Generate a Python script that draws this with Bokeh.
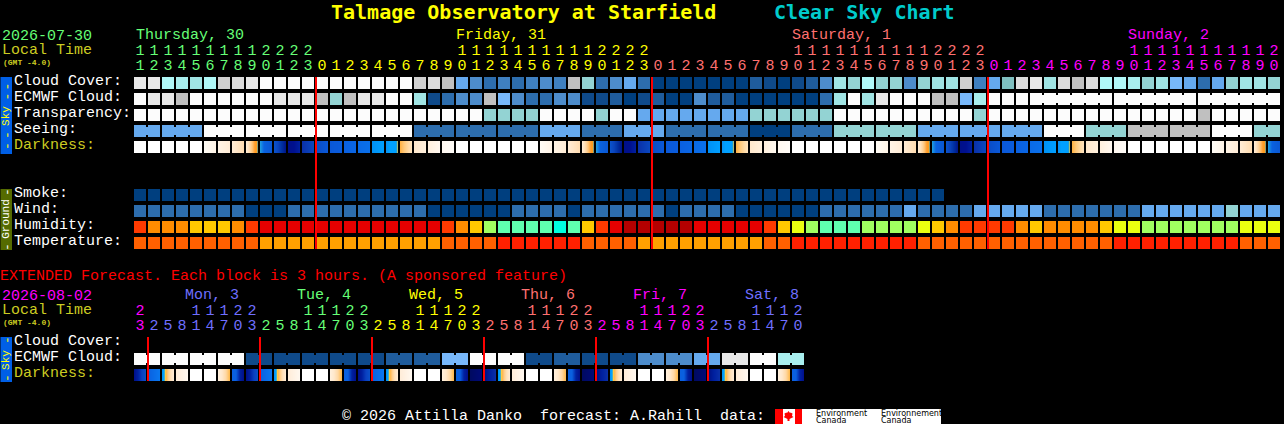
from bokeh.plotting import figure
from bokeh.core.properties import value
from bokeh.embed import file_html
from bokeh.resources import INLINE
import math

W, H = 1284, 424
MONO = value("Liberation Mono")
TITLE = value("DejaVu Sans Mono")

# ---------- palettes ----------
cloud_palette = ["#003f7f", "#0f4a8a", "#1f5c9c", "#2d6dad", "#3f80c0", "#4d8ccb", "#65a9ee", "#78b8fa",
                 "#7fbfbf", "#93d3d3", "#a0e4e4", "#a8eeee", "#b0f8f8", "#c0c0c0", "#d0d0d0", "#dcdcdc",
                 "#e8e8e8", "#fcfcfc"]
humid_palette = {"r": "#ff3a00", "o": "#ff8c00", "y": "#ffc800", "e": "#e60000", "d": "#b40000",
                 "g": "#a0ff60", "m": "#5fffaf", "c": "#00ffe0", "l": "#eaff10"}
temp_palette = {"a": "#ffa000", "b": "#ff6000", "c": "#ff2000"}

# ---------- main forecast (82 hourly cells) ----------
cloud_cover = [16, 16, 12, 11, 10, 12, 14, 15, 16, 17, 17, 17, 17, 17, 17, 17, 17, 17, 17, 17,
               14, 15, 13, 6, 5, 3, 4, 3, 4, 5, 4, 13, 9, 3, 5, 6, 3, 0, 0, 0,
               0, 0, 0, 0, 2, 1, 0, 1, 2, 5, 10, 9, 12, 9, 9, 5, 9, 10, 10, 14,
               4, 6, 8, 15, 16, 10, 15, 13, 15, 12, 12, 11, 9, 10, 7, 6, 3, 6, 9, 10,
               10, 9]
ecmwf_cloud = [17, 16, 16, 13, 17, 17, 17, 17, 17, 17, 16, 16, 16, 13, 9, 13, 16, 16, 17, 17,
               10, 1, 3, 5, 5, 13, 7, 5, 3, 3, 5, 5, 1, 1, 2, 0, 1, 2, 0, 0,
               5, 2, 2, 0, 0, 0, 0, 0, 0, 3, 10, 17, 10, 16, 17, 17, 17, 13, 13, 7,
               11, 17, 17, 17, 17, 17, 17, 17, 17, 17, 17, 17, 17, 17, 17, 17, 17, 17, 17, 17,
               17, 17]
transparency = [17] * 25 + [9] * 4 + [17] * 4 + [9] + [17] * 2 + [6] * 8 + [9] * 6 + [17] * 10 + [9] + [17] * 15 + [13] + [17] * 5
seeing_blocks = [6, 6, 17, 17, 17, 17, 17, 3, 3, 3, 6, 3, 6, 3, 3, 0, 3, 9, 9, 6, 6, 6, 17, 9, 13, 13, 17, 9]
seeing_sizes = [2] + [3] * 26 + [2]
smoke = [0] * 58
wind = [3] * 8 + [0] * 3 + [3] * 10 + [0] * 6 + [3] * 4 + [0] + [3] * 6 + [0] + [3] * 4 + [0] * 6 + [3] * 6 + [6] + [3] * 4 + [6] * 5 + [3] * 7 + [6] * 6 + [9] + [6] * 3
humidity = list("r") + list("ooo") + list("yyy") + list("o") + list("r") + list("e" * 13) + list("r") + list("o") + list("y") + list("g") + \
    list("mmmm") + list("c") + list("m") + list("y") + list("r") + list("e") + list("ddddd") + list("eeeee") + list("r") + list("y") + list("l") + list("g") + \
    list("mmm") + list("gggg") + list("l") + list("y") + list("o") + list("rrrr") + list("o") + list("y") + list("oooo") + list("y") + list("ll") + list("ggggggg") + list("lll")
temperature = list("b" * 9 + "a" * 13 + "b" * 4 + "c" * 6 + "b" * 4 + "a" * 9 + "bb" + "c" * 9 + "b" * 14 + "c" * 9 + "bbb")

# each darkness cell is a code into the stop table below
darkness_stops = {
    "W": ["#ffffff", "#ffffff"],
    "a": ["#fffcf6", "#fff4e6"], "b": ["#fff4e6", "#ffecd6"], "c": ["#ffecd6", "#ffdcb0"],
    "S": ["#ffeed8", "#ffe8cc", "#ffe4c0", "#ffdcb0", "#ffd4a0", "#ffcc88", "#ffc070", "#ffb050", "#ffa030", "#ff9c20", "#ff9c20", "#20a0c0"],
    "e": ["#20a0e0", "#0a62e0", "#0a5cd8", "#0a58d4"], "f": ["#0a54cc", "#0a44bc", "#0030a0", "#001488"],
    "g": ["#001088", "#00108f", "#0020a0"], "h": ["#0a30a8", "#0a48c0"], "i": ["#0a4cc4", "#0a58d8"],
    "j": ["#0a58d8", "#0a5cdc"], "k": ["#0a60e0", "#0a66e4"], "l": ["#0a6ae6", "#0a70ea"],
    "m": ["#0090f4", "#00a0ff"],
    "n": ["#0a90f0", "#0a96f4", "#009cf8", "#00a0ff", "#00a0ff", "#00a0ff", "#00a0ff", "#00a0ff", "#00a0ff", "#00a0ff", "#30a0c0", "#ffd040"],
    "o": ["#ffb040", "#ffc878", "#ffd8a0", "#ffe4c0"], "p": ["#ffe8cc", "#fff0dd"], "q": ["#fff0dd", "#fff8f0"],
    "r": ["#fff8f0", "#fffcf8"],
    "A": ["#000f8a", "#0020a0", "#0a40c0", "#0a50c8"], "B": ["#0a60e0", "#0a78f0"],
    "C": ["#0090f0", "#00a0ff", "#00a0ff", "#ffd040", "#ffb850", "#ffc470", "#ffd090", "#ffd8a4", "#ffe0b8", "#ffe4c4", "#ffe8cc", "#ffeed8"],
    "D": ["#ffecd8", "#fff8f0"],
    "E": ["#fff0dd", "#ffe8cc", "#ffd8a4", "#ffb848"], "F": ["#0a60e0", "#0a60e0", "#0020a0", "#000f8a"],
    "G": ["#000a60", "#000a78"], "H": ["#000f80", "#0020a0", "#0a30a8"],
}
night = list("efghijklmn")
darkness = ["W"] * 5 + list("abcS") + night + list("opqr") + ["W"] * 6 + list("abcS") + night + list("opqr") + \
    ["W"] * 6 + list("abcS") + night + list("opqr") + ["W"] * 6 + list("abcSe")

# ---------- extended forecast (48 three-hour cells) ----------
ext_ecmwf_blocks = [17, 17, 17, 17, 1, 1, 1, 1, 1, 2, 2, 7, 17, 17, 1, 2, 1, 1, 5, 5, 6, 16, 17, 11]
ext_darkness = list("ABCDWWEF" * 3) + list("GHCDWWEF") + list("GHCDWWEF") + list("GHCDWWEF")

# ---------- labels ----------
main_hour_start = 11
main_day_colors = [(13, "#66ff77"), (24, "#ffff00"), (24, "#ff7070"), (21, "#ff00ff")]
ext_hours = [23] + [2, 5, 8, 11, 14, 17, 20, 23] * 5 + [2, 5, 8, 11, 14, 17, 20]
ext_day_colors = [(1, "#ff00ff"), (8, "#6f6fff"), (8, "#66ff77"), (8, "#ffff00"), (8, "#ff7070"), (8, "#ff00ff"), (7, "#6f6fff")]
main_days = [("Thursday, 30", 136, "#66ff77"), ("Friday, 31", 456, "#ffff00"), ("Saturday, 1", 792, "#ff7070"), ("Sunday, 2", 1128, "#ff00ff")]
ext_days = [("Mon, 3", 185, "#6f6fff"), ("Tue, 4", 297, "#66ff77"), ("Wed, 5", 409, "#ffff00"),
            ("Thu, 6", 521, "#ff7070"), ("Fri, 7", 633, "#ff00ff"), ("Sat, 8", 745, "#6f6fff")]
main_row_labels = [("Cloud Cover:", 81, "#ffffff"), ("ECMWF Cloud:", 97, "#ffffff"), ("Transparency:", 113, "#ffffff"),
                   ("Seeing:", 129, "#ffffff"), ("Darkness:", 145, "#cccc22"), ("Smoke:", 193, "#ffffff"),
                   ("Wind:", 209, "#ffffff"), ("Humidity:", 225, "#ffffff"), ("Temperature:", 241, "#ffffff")]
ext_row_labels = [("Cloud Cover:", 341, "#ffffff"), ("ECMWF Cloud:", 357, "#ffffff"), ("Darkness:", 373, "#cccc22")]

# ---------- layout ----------
X0, PITCH, CELL = 134, 14, 12

# Bokeh shifts its drawing by half a pixel; the ranges cancel that so the blocks land on whole pixels
p = figure(width=W, height=H, x_range=(0.5, W + 0.5), y_range=(H + 0.5, 0.5), output_backend="svg",
           toolbar_location=None, background_fill_color="#000000", border_fill_color="#000000",
           outline_line_color=None, min_border=0, x_axis_location=None, y_axis_location=None)
p.grid.visible = False
p.styles = {"background-color": "#000000"}
p.quad(left=[-5], right=[W + 5], top=[-5], bottom=[H + 5], fill_color="#000000", line_color=None)


def expand(blocks, sizes):
    out = []
    for b, s in zip(blocks, sizes):
        out += [b] * s
    return out


def row(vals, palette, top):
    colors = [palette[v] for v in vals]
    left = [X0 + PITCH * i for i in range(len(vals))]
    p.quad(left=left, right=[x + CELL for x in left], top=[top] * len(vals), bottom=[top + CELL] * len(vals),
           fill_color=colors, line_color=None)


def bridges(vals, sizes, palette, top, start=0):
    i = start
    for s in sizes:
        for k in range(i, i + s - 1):
            x = X0 + PITCH * k + CELL
            p.quad(left=x, right=x + 2, top=top + 2, bottom=top + 10, fill_color=palette[vals[k]], line_color=None)
        i += s


def lerp(stops, t):
    t = t * (len(stops) - 1)
    k = min(int(t), len(stops) - 2)
    f = t - k
    a, b = stops[k], stops[k + 1]
    rgb = [round(int(a[j:j + 2], 16) * (1 - f) + int(b[j:j + 2], 16) * f) for j in (1, 3, 5)]
    return "#%02x%02x%02x" % tuple(rgb)


def dark_row(vals, top):
    # painter's order: every strip runs to the cell's right end, so no seams appear between strips
    L, R, C = [], [], []
    for i, v in enumerate(vals):
        right = X0 + PITCH * i + CELL
        for px in range(CELL):
            L.append(X0 + PITCH * i + px)
            R.append(right)
            C.append(lerp(darkness_stops[v], (px + 0.5) / CELL))
    p.quad(left=L, right=R, top=[top] * len(L), bottom=[top + CELL] * len(L), fill_color=C, line_color=None)


def txt(x, y, s, color, size=15, bold=False, angle=0, align="left", font=MONO):
    p.text(x=[x], y=[y], text=[s], text_color=color, text_font=font, text_font_size=f"{size}px",
           text_font_style="bold" if bold else "normal", text_baseline="middle", text_align=align, angle=angle)


def digits(hours, day_colors, y_tens, y_units):
    colors = expand([c for _, c in day_colors], [n for n, _ in day_colors])
    xs = [X0 + PITCH * i + 6 for i in range(len(hours))]
    units = [str(h % 10) for h in hours]
    p.text(x=xs, y=[y_units] * len(xs), text=units, text_color=colors, text_font=MONO, text_font_size="15px",
           text_baseline="middle", text_align="center")
    idx = [i for i, h in enumerate(hours) if h >= 10]
    p.text(x=[xs[i] for i in idx], y=[y_tens] * len(idx), text=[str(hours[i] // 10) for i in idx],
           text_color=[colors[i] for i in idx], text_font=MONO, text_font_size="15px",
           text_baseline="middle", text_align="center")


# side bars
p.quad(left=[0, 0, 0], right=[12, 12, 12], top=[77, 189, 337], bottom=[154, 250, 382],
       fill_color=["#005fe6", "#556b00", "#005fe6"], line_color=None)
for yc, s, c in [(116, "Sky", "#ffff00"), (219, "Ground", "#ffffff"), (360, "Sky", "#ffff00")]:
    txt(6, yc, s, c, size=11, angle=math.pi / 2, align="center")
for yc, c in [(86.5, "#ffff00"), (96.5, "#ffff00"), (135, "#ffff00"), (146, "#ffff00"), (192, "#ffffff"),
              (247, "#ffffff"), (340, "#ffff00"), (378, "#ffff00")]:
    txt(6, yc, "-", c, size=13, angle=math.pi / 2, align="center")

# rows
seeing = expand(seeing_blocks, seeing_sizes)
row(cloud_cover, cloud_palette, 77)
row(ecmwf_cloud, cloud_palette, 93)
bridges(ecmwf_cloud, [6, 6, 6], cloud_palette, 93, start=64)
row(transparency, cloud_palette, 109)
row(seeing, cloud_palette, 125)
bridges(seeing, seeing_sizes, cloud_palette, 125)
dark_row(darkness, 141)
row(smoke, cloud_palette, 189)
row(wind, cloud_palette, 205)
row(humidity, humid_palette, 221)
row(temperature, temp_palette, 237)

ext_ecmwf = expand(ext_ecmwf_blocks, [2] * 24)
row(ext_ecmwf, cloud_palette, 353)
bridges(ext_ecmwf, [2] * 24, cloud_palette, 353)
dark_row(ext_darkness, 369)

# midnight markers
p.quad(left=[315, 651, 987], right=[317, 653, 989], top=[77] * 3, bottom=[249] * 3, fill_color="#ff0000", line_color=None)
mx = [147, 259, 371, 483, 595, 707]
p.quad(left=mx, right=[x + 2 for x in mx], top=[337] * 6, bottom=[381] * 6, fill_color="#ff0000", line_color=None)

# title
txt(331, 12, "Talmage Observatory at Starfield", "#ffff00", size=20, bold=True, font=TITLE)
txt(774, 12, "Clear Sky Chart", "#00cccc", size=20, bold=True, font=TITLE)

# main header
txt(2, 35, "2026-07-30", "#66ff77")
txt(2, 50, "Local Time", "#cccc22")
txt(3, 62, "(GMT -4.0)", "#cccc22", size=8, bold=True)
for s, x, c in main_days:
    txt(x, 35, s, c)
digits([(main_hour_start + i) % 24 for i in range(82)], main_day_colors, 50, 65)
for s, y, c in main_row_labels:
    txt(14, y, s, c)

# extended header
txt(0, 276, "EXTENDED Forecast. Each block is 3 hours. (A sponsored feature)", "#ff0000")
txt(2, 295, "2026-08-02", "#ff00ff")
txt(2, 310, "Local Time", "#cccc22")
txt(3, 322, "(GMT -4.0)", "#cccc22", size=8, bold=True)
for s, x, c in ext_days:
    txt(x, 295, s, c)
digits(ext_hours, ext_day_colors, 310, 325)
for s, y, c in ext_row_labels:
    txt(14, y, s, c)

# footer
txt(342, 416, "\u00a9 2026 Attilla Danko\u00a0\u00a0forecast: A.Rahill\u00a0\u00a0data:", "#ffffff")
p.quad(left=[775], right=[941], top=[409], bottom=[424], fill_color="#ffffff", line_color=None)
p.quad(left=[775, 795], right=[783, 802], top=[409, 409], bottom=[424, 424], fill_color="#ff0000", line_color=None)
leaf_dx = [0, 1.5, 2, 4, 3.5, 5, 1, 1, -1, -1, -5, -3.5, -4, -2, -1.5]
leaf_dy = [-5, -3, -3.5, -2.5, 0, 1, 3, 5, 5, 3, 1, 0, -2.5, -3.5, -3]
p.patch([788.5 + d for d in leaf_dx], [416 + d for d in leaf_dy], fill_color="#ff0000", line_color=None)
SANS = value("DejaVu Sans")
txt(816, 413, "Environment", "#000000", size=8, font=SANS)
txt(816, 420, "Canada", "#000000", size=8, font=SANS)
txt(881, 413, "Environnement", "#000000", size=8, font=SANS)
txt(881, 420, "Canada", "#000000", size=8, font=SANS)

for name, arr, n in [("cloud", cloud_cover, 82), ("ecmwf", ecmwf_cloud, 82), ("transp", transparency, 82),
                     ("seeing", seeing, 82), ("wind", wind, 82), ("hum", humidity, 82), ("temp", temperature, 82),
                     ("dark", darkness, 82), ("ext", ext_ecmwf, 48), ("extd", ext_darkness, 48)]:
    if len(arr) != n:
        print("LENGTH", name, len(arr))

open("out.html", "w").write(file_html(p, INLINE))
